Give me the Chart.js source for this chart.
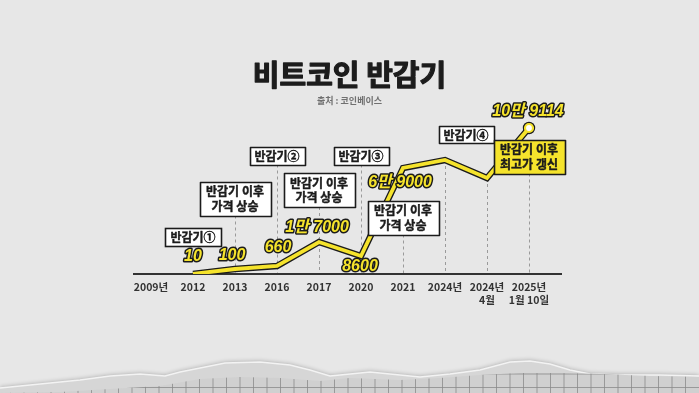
<!DOCTYPE html>
<html><head><meta charset="utf-8">
<script src="https://cdn.jsdelivr.net/npm/chart.js@4"></script>
<style>html,body{margin:0;padding:0;background:#e7e7e7;overflow:hidden}canvas{display:block}</style>
</head><body>
<canvas id="c" width="699" height="393"></canvas>
<script>
// ---- data ----
const categories = [['2009년'], ['2012'], ['2013'], ['2016'], ['2017'], ['2020'], ['2021'], ['2024년'], ['2024년', '4월'], ['2025년', '1월 10일']];
const priceLevel = [null, 0, 5, 8, 32, 18, 106, 114, 96, 146];   // illustrative line height (not to scale)
const priceLabels = [null, '10', '100', '660', '1만 7000', '8600', '6만 9000', null, null, '10만 9114'];
const halvingTags = ['반감기①', '반감기②', '반감기③', '반감기④'];
const noteRise = ['반감기 이후', '가격 상승'];
const noteHigh = ['반감기 이후', '최고가 갱신'];
const titleText = '비트코인 반감기';
const sourceText = '출처 : 코인베이스';

const YELLOW = '#f5e32c', INK = '#1b1b1b';
const LAST = priceLevel.length - 1;

// annotation layout (anchored to category index / line level)
const BOXES = [
  { idx: 1, level: 37, lines: [halvingTags[0]], w: 56, h: 18, dash: false, bg: '#ffffff' },
  { idx: 2, level: 75.5, lines: noteRise, w: 71, h: 34, dash: true, bg: '#ffffff' },
  { idx: 3, level: 118.5, lines: [halvingTags[1]], w: 55, h: 18, dash: true, bg: '#ffffff' },
  { idx: 4, level: 84, lines: noteRise, w: 71, h: 34, dash: true, bg: '#ffffff' },
  { idx: 5, level: 118.5, lines: [halvingTags[2]], w: 55, h: 18, dash: true, bg: '#ffffff' },
  { idx: 6, level: 56.5, lines: noteRise, w: 71, h: 34, dash: true, bg: '#ffffff' },
  { idx: 7.5, level: 139.5, lines: [halvingTags[3]], w: 55, h: 17, dash: false, bg: '#ffffff' },
  { idx: 9, level: 117.5, lines: noteHigh, w: 71, h: 34, dash: true, bg: YELLOW }
];
const LABEL_OFFSETS = [null, [0, -17], [-3, -13], [1, -18], [-2, -14], [-1, 11], [-3, 15], null, null, [-1, -16]];

const paperPlugin = {
  id: 'paper',
  beforeDraw(chart) {
    const ctx = chart.ctx, W = chart.width, H = chart.height;
    ctx.save();
    ctx.fillStyle = '#e7e7e7';
    ctx.fillRect(0, 0, W, H);
    const edge = [[0,388],[40,384],[80,380],[110,376],[140,374],[165,376],[180,372],[200,368],[225,363],[260,362],[290,365],[310,370],[330,376],[350,374],[370,372],[390,374],[420,377],[450,374],[480,370],[510,362],[530,361],[550,364],[570,370],[590,374],[620,375],[660,375],[699,376]];
    ctx.beginPath(); ctx.moveTo(0, H);
    edge.forEach(p => ctx.lineTo(p[0], p[1]));
    ctx.lineTo(W, H); ctx.closePath();
    ctx.shadowColor = 'rgba(0,0,0,0.25)'; ctx.shadowBlur = 4; ctx.shadowOffsetY = -1;
    ctx.fillStyle = '#d6d6d6'; ctx.fill();
    ctx.shadowColor = 'transparent';
    ctx.beginPath(); edge.forEach((p, i) => i ? ctx.lineTo(p[0], p[1]) : ctx.moveTo(p[0], p[1]));
    ctx.strokeStyle = '#f3f3f3'; ctx.lineWidth = 1.5; ctx.stroke();
    const gridTop = [[0,393],[60,392],[110,389],[160,386],[200,379],[240,377],[280,378],[320,381],[350,378],[400,380],[440,378],[480,375],[520,373],[560,373],[600,374],[650,376],[699,377]];
    ctx.beginPath(); ctx.moveTo(0, H);
    gridTop.forEach(p => ctx.lineTo(p[0], p[1]));
    ctx.lineTo(W, H); ctx.closePath();
    ctx.fillStyle = '#d0d0d0'; ctx.fill();
    ctx.save(); ctx.clip();
    ctx.strokeStyle = '#8a8a8a'; ctx.lineWidth = 0.8;
    for (let gx = 105 - 13.5 * 8; gx < W; gx += 13.5) {
      ctx.beginPath(); ctx.moveTo(gx, 355); ctx.lineTo(gx, H); ctx.stroke();
    }
    for (let gy = 387.5; gy > 355; gy -= 13.5) {
      ctx.beginPath(); ctx.moveTo(0, gy); ctx.lineTo(W, gy); ctx.stroke();
    }
    ctx.restore();
    // title + source
    ctx.fillStyle = '#1c1c1c'; ctx.strokeStyle = '#1c1c1c'; ctx.lineWidth = 1.2; ctx.lineJoin = 'round';
    ctx.textAlign = 'center'; ctx.textBaseline = 'middle';
    ctx.font = 'bold 29px "Noto Sans CJK KR", sans-serif';
    ctx.strokeText(titleText, 349.5, 75);
    ctx.fillText(titleText, 349.5, 75);
    ctx.fillStyle = '#707070';
    ctx.font = 'bold 9px "Noto Sans CJK KR", sans-serif';
    ctx.fillText(sourceText, 349.5, 101);
    ctx.restore();
  }
};

const annPlugin = {
  id: 'ann',
  beforeDatasetsDraw(chart) {
    const { ctx, chartArea: ca, scales: { x, y } } = chart;
    ctx.save();
    ctx.setLineDash([3, 3]); ctx.strokeStyle = '#9a9a9a'; ctx.lineWidth = 1;
    for (let i = 2; i < categories.length; i++) {
      let top;
      const b = BOXES.find(bb => bb.idx === i && bb.dash);
      if (b) top = y.getPixelForValue(b.level) + b.h / 2;
      else if (priceLevel[i] != null) top = y.getPixelForValue(priceLevel[i]);
      else continue;
      const px = Math.round(x.getPixelForValue(i)) + 0.5;
      ctx.beginPath(); ctx.moveTo(px, top); ctx.lineTo(px, ca.bottom); ctx.stroke();
    }
    ctx.setLineDash([]);
    ctx.strokeStyle = '#333'; ctx.lineWidth = 1.8;
    ctx.beginPath(); ctx.moveTo(ca.left + 3, ca.bottom); ctx.lineTo(ca.right + 12, ca.bottom); ctx.stroke();
    ctx.restore();
  },
  afterDatasetsDraw(chart) {
    const { ctx, scales: { x, y } } = chart;
    ctx.save();
    ctx.textAlign = 'center'; ctx.textBaseline = 'middle';
    BOXES.forEach(b => {
      const cx = x.getPixelForValue(b.idx), cy = y.getPixelForValue(b.level);
      const l = Math.round(cx - b.w / 2) + 0.5, t = Math.round(cy - b.h / 2) + 0.5;
      ctx.fillStyle = b.bg;
      ctx.fillRect(l, t, b.w, b.h);
      ctx.strokeStyle = INK; ctx.lineWidth = 1.6;
      ctx.strokeRect(l, t, b.w, b.h);
      ctx.fillStyle = INK;
      ctx.font = 'bold 12px "Noto Sans CJK KR", sans-serif';
      ctx.lineWidth = 0.4; ctx.lineJoin = 'round';
      const lh = 14.5;
      b.lines.forEach((s, k) => {
        const ty = cy + (k - (b.lines.length - 1) / 2) * lh + 0.5;
        ctx.strokeText(s, cx, ty); ctx.fillText(s, cx, ty);
      });
    });
    ctx.font = 'italic bold 16px "Liberation Sans", "Noto Sans CJK KR", sans-serif';
    ctx.lineJoin = 'round'; ctx.lineWidth = 3;
    priceLabels.forEach((s, i) => {
      if (!s) return;
      const o = LABEL_OFFSETS[i];
      const px = x.getPixelForValue(i) + o[0], py = y.getPixelForValue(priceLevel[i]) + o[1];
      ctx.strokeStyle = INK; ctx.strokeText(s, px, py);
      ctx.fillStyle = YELLOW; ctx.fillText(s, px, py);
    });
    ctx.restore();
  }
};

new Chart(document.getElementById('c'), {
  type: 'line',
  data: {
    labels: categories,
    datasets: [
      {
        label: '가격', data: priceLevel, order: 0,
        borderColor: YELLOW, borderWidth: 3.8, tension: 0, borderJoinStyle: 'miter', borderCapStyle: 'butt',
        pointRadius: c => c.dataIndex === LAST ? 4 : 0,
        pointBackgroundColor: '#ffffff', pointBorderColor: YELLOW, pointBorderWidth: 2.2
      },
      {
        label: 'outline', data: priceLevel, order: 1,
        borderColor: INK, borderWidth: 6.4, tension: 0, borderJoinStyle: 'miter', borderCapStyle: 'butt',
        pointRadius: c => c.dataIndex === LAST ? 6.2 : 0,
        pointBackgroundColor: INK, pointBorderWidth: 0
      }
    ]
  },
  options: {
    responsive: false, animation: false, events: [],
    devicePixelRatio: 1,
    layout: { padding: { left: 130, right: 149, top: 110, bottom: 0 } },
    scales: {
      x: {
        type: 'category', offset: true,
        grid: { display: false, drawTicks: false }, border: { display: false },
        ticks: {
          color: '#333', autoSkip: false, maxRotation: 0, padding: 6.5,
          font: { family: '"Liberation Sans Narrow", "Noto Sans CJK KR", sans-serif', size: 10.5, weight: 'bold', lineHeight: 1.25 }
        },
        afterFit(s) { s.height = 119; }
      },
      y: { display: false, min: 0, max: 164 }
    },
    plugins: {
      legend: { display: false },
      tooltip: { enabled: false },
      title: { display: false }
    }
  },
  plugins: [paperPlugin, annPlugin]
});
</script>
</body></html>
